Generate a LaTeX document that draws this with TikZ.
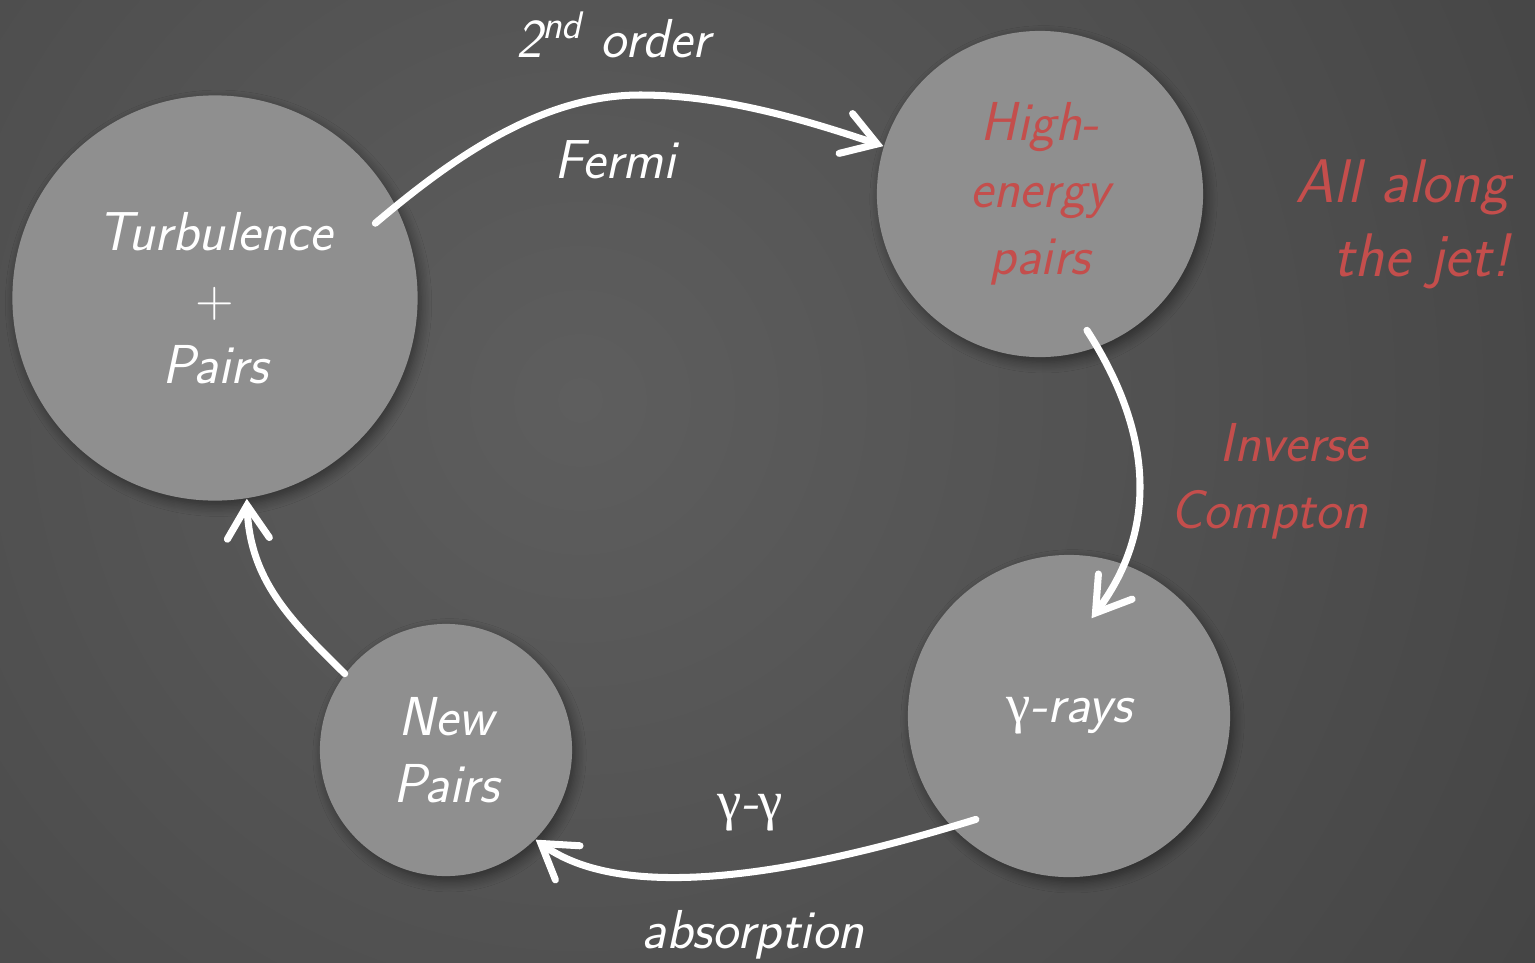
\documentclass[tikz,border=0pt]{standalone}
\usepackage{fontspec}
\newfontfamily\grkfont{Liberation Serif}
\usetikzlibrary{arrows.meta,shadows.blur,calc}
\definecolor{bginner}{RGB}{94,94,94}
\definecolor{bgouter}{RGB}{52,52,52}
\definecolor{bubblegrey}{RGB}{143,143,143}
\definecolor{jetred}{RGB}{196,78,76}
\newcommand{\gam}{{\grkfont\upshape γ}}
\tikzset{
  bubble/.style={circle, fill=bubblegrey, text=white, align=center,
    blur shadow={shadow xshift=1pt, shadow yshift=-1.5pt, shadow blur steps=8,
      shadow opacity=45, shadow blur radius=3pt}},
  bubbletext/.style={font=\fontsize{15.6}{19}\selectfont\sffamily\itshape},
  flow/.style={draw=white, line width=2pt, line cap=round,
    -{Straight Barb[length=0.33cm, width=0.42cm, line cap=round, line width=2pt]}},
  note/.style={font=\fontsize{15.6}{19}\selectfont\sffamily\itshape, text=white},
  rednote/.style={note, text=jetred, align=right}
}

\begin{document}
\begin{tikzpicture}[x=0.01cm, y=-0.01cm]
    % background
    \begin{scope}
      \clip (0,0) rectangle (1535,963);
      \fill[bgouter] (0,0) rectangle (1535,963);
      \shade[inner color=bginner, outer color=bgouter] (580,400) circle (1850);
    \end{scope}
    \useasboundingbox (0,0) rectangle (1535,963);

    % the cycle
    \node[bubble, bubbletext, minimum size=4.05cm] (turb) at (215,298)
      {Turbulence\\$+$\\Pairs};
    \node[bubble, bubbletext, minimum size=3.26cm, text=jetred] (hep) at (1040,194)
      {High-\\energy\\pairs};
    \node[bubble, bubbletext, minimum size=3.22cm] (gray) at (1069,716)
      {\gam-rays};
    \node[bubble, bubbletext, minimum size=2.52cm] (newp) at (446,750)
      {New\\Pairs};

    % labels
    \node[note] (order) at (613,35) {2\textsuperscript{nd} order};
    \node[note] (fermi) at (615,160) {Fermi};
    \node[rednote, anchor=east] (ic) at (1380,481) {Inverse\\Compton};
    \node[rednote, anchor=east, font=\fontsize{17.5}{21}\selectfont\sffamily\itshape]
      (jet) at (1522,224) {All along\\the jet!};
    \node[note] (gg) at (750,813) {\gam-\gam};
    \node[note] (absorb) at (753,935) {absorption};

    % arrows
    \draw[flow] ($(turb.center)!0.87!(turb.25)$)
      .. controls (450,160) and (540,95) .. (640,95)
      .. controls (720,95) and (800,118) .. (hep.163);
    \draw[flow] ($(hep.center)!0.88!(hep.-71)$)
      .. controls (1145,420) and (1165,520) .. ($(gray.center)!0.62!(gray.77)$);
    \draw[flow] ($(gray.center)!0.86!(gray.-132)$)
      .. controls (860,855) and (640,915) .. (newp.-45);
    \draw[flow] (newp.143)
      .. controls (290,620) and (250,580) .. (turb.-81.5);
\end{tikzpicture}
\end{document}
